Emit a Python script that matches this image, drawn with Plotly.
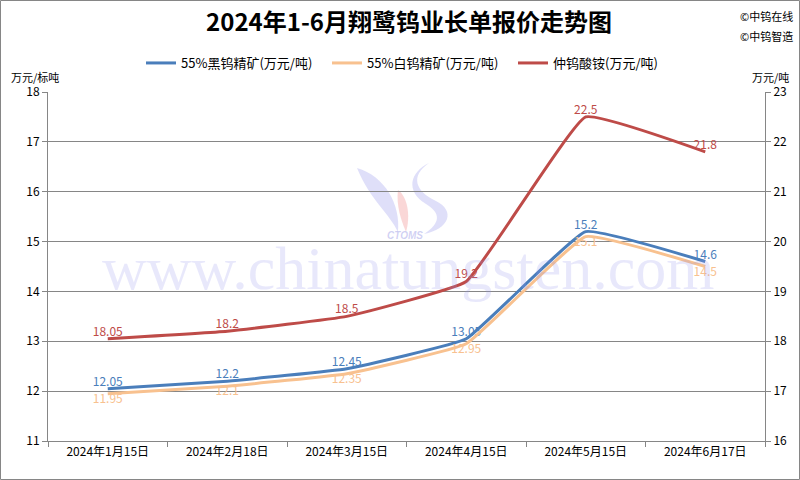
import plotly.graph_objects as go

categories = ["2024年1月15日", "2024年2月18日", "2024年3月15日", "2024年4月15日", "2024年5月15日", "2024年6月17日"]
black_conc = [12.05, 12.2, 12.45, 13.05, 15.2, 14.6]
white_conc = [11.95, 12.1, 12.35, 12.95, 15.1, 14.5]
apt = [18.05, 18.2, 18.5, 19.2, 22.5, 21.8]
names = ["55%黑钨精矿(万元/吨)", "55%白钨精矿(万元/吨)", "仲钨酸铵(万元/吨)"]

FONT = "Noto Sans CJK SC, Microsoft YaHei, sans-serif"
BLUE = "#4A7EBB"
ORANGE = "#F8C18F"
RED = "#BE4B48"

# plot area geometry (pixels) used for placing paper annotations
L, R, T, B = 48, 765, 92, 441
PW, PH = R - L, B - T


def px(xp):
    return (xp - L) / PW


def py(yp):
    return (B - yp) / PH


def path(cmds):
    out = []
    for c in cmds:
        if isinstance(c, str):
            out.append(c)
        else:
            out.append(f"{px(c[0]):.4f},{py(c[1]):.4f}")
    return " ".join(out)


fig = go.Figure()
fig.add_trace(go.Scatter(
    x=categories, y=black_conc, name=names[0], mode="lines+text",
    line=dict(color=BLUE, width=3, shape="spline", smoothing=0.3),
    text=[str(v) for v in black_conc], textposition="top center",
    textfont=dict(color=BLUE, size=12, family=FONT), cliponaxis=False))
fig.add_trace(go.Scatter(
    x=categories, y=white_conc, name=names[1], mode="lines+text",
    line=dict(color=ORANGE, width=3, shape="spline", smoothing=0.3),
    text=[str(v) for v in white_conc], textposition="bottom center",
    textfont=dict(color=ORANGE, size=12, family=FONT), cliponaxis=False))
fig.add_trace(go.Scatter(
    x=categories, y=apt, name=names[2], mode="lines+text", yaxis="y2",
    line=dict(color=RED, width=3, shape="spline", smoothing=0.3),
    text=[str(v) for v in apt], textposition="top center",
    textfont=dict(color=RED, size=12, family=FONT), cliponaxis=False))

axis_common = dict(showline=True, linecolor="#868686", linewidth=1,
                   ticks="outside", tickcolor="#868686", ticklen=5,
                   tickfont=dict(size=12, color="#000000", family=FONT), zeroline=False)

fig.update_layout(
    width=800, height=480,
    margin=dict(l=L, r=800 - R, t=T, b=480 - B, autoexpand=False),
    paper_bgcolor="white", plot_bgcolor="white",
    font=dict(family=FONT, color="#000000"),
    title=dict(text="<b>2024年1-6月翔鹭钨业长单报价走势图</b>", x=409 / 800, xanchor="center",
               y=1 - 23 / 480, yanchor="middle", font=dict(size=24, family=FONT, color="#000")),
    showlegend=True,
    legend=dict(orientation="h", x=px(141), y=py(63), xanchor="left", yanchor="middle",
                font=dict(size=13, family=FONT), entrywidth=141, entrywidthmode="pixels",
                tracegroupgap=0, bgcolor="rgba(0,0,0,0)"),
    xaxis=dict(axis_common, showgrid=False, type="category", tickson="boundaries",
               range=[-0.5, len(categories) - 0.5]),
    yaxis=dict(axis_common, range=[11, 18], dtick=1, showgrid=True,
               gridcolor="#868686", gridwidth=1),
    yaxis2=dict(axis_common, range=[16, 23], dtick=1, overlaying="y", side="right",
                showgrid=False),
)

# faint watermark logo + site text
LAV = "rgba(140,140,235,0.28)"
fig.add_shape(type="path", xref="paper", yref="paper", layer="below", line=dict(width=0),
              fillcolor=LAV,
              path=path(["M", (357, 168), "C", (385, 176), (401, 205), (398, 232),
                         "C", (390, 214), (370, 200), (357, 168), "Z"]))
fig.add_shape(type="path", xref="paper", yref="paper", layer="below", line=dict(width=0),
              fillcolor="rgba(240,140,140,0.35)",
              path=path(["M", (398, 190), "C", (407, 196), (411, 215), (406, 232),
                         "C", (401, 220), (396, 205), (398, 190), "Z"]))
fig.add_shape(type="path", xref="paper", yref="paper", layer="below", line=dict(width=0),
              fillcolor=LAV,
              path=path(["M", (429, 163), "C", (410, 176), (415, 191), (436, 201),
                         "C", (456, 211), (449, 229), (424, 234),
                         "C", (441, 223), (441, 213), (426, 204),
                         "C", (405, 191), (410, 172), (429, 163), "Z"]))
fig.add_annotation(text="www.chinatungsten.com", xref="paper", yref="paper",
                   x=px(408), y=py(268), showarrow=False,
                   font=dict(size=62, color="rgba(150,150,235,0.22)", family="Liberation Serif"))
fig.add_annotation(text="<i><b>CTOMS</b></i>", xref="paper", yref="paper",
                   x=px(405), y=py(236), showarrow=False,
                   font=dict(size=10, color="rgba(120,120,220,0.35)", family="Liberation Sans"))
fig.add_annotation(text="万元/标吨", xref="paper", yref="paper", x=px(9), y=py(77),
                   xanchor="left", yanchor="middle", showarrow=False,
                   font=dict(size=11, family=FONT))
fig.add_annotation(text="万元/吨", xref="paper", yref="paper", x=px(791), y=py(77),
                   xanchor="right", yanchor="middle", showarrow=False,
                   font=dict(size=11, family=FONT))
fig.add_annotation(text="©中钨在线", xref="paper", yref="paper", x=px(795), y=py(16),
                   xanchor="right", yanchor="middle", showarrow=False,
                   font=dict(size=11, family=FONT))
fig.add_annotation(text="©中钨智造", xref="paper", yref="paper", x=px(795), y=py(36),
                   xanchor="right", yanchor="middle", showarrow=False,
                   font=dict(size=11, family=FONT))
fig.add_shape(type="rect", xref="paper", yref="paper", x0=px(0.5), x1=px(799.5),
              y0=py(479.5), y1=py(0.5), line=dict(color="#868686", width=1))

fig.write_html("out.html", config={"displayModeBar": False},
               post_script="document.body.style.margin='0';document.body.style.padding='0';")
